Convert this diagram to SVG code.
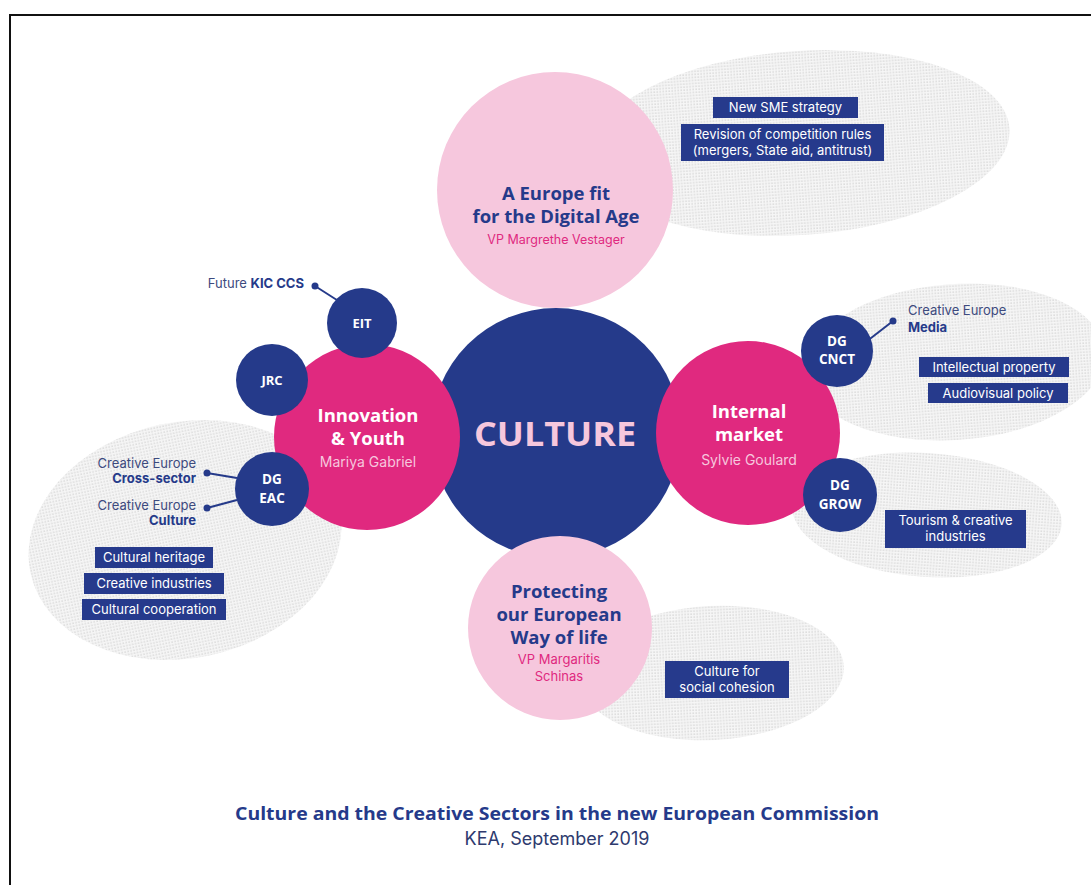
<svg xmlns="http://www.w3.org/2000/svg" width="1091" height="885" viewBox="0 0 1091 885">
<defs>
<pattern id="dots" width="3" height="3" patternUnits="userSpaceOnUse">
<rect width="3" height="3" fill="#f6f6f6"/>
<rect x="0.5" y="0.5" width="1.3" height="1.3" fill="#cfcfcf"/>
</pattern>
</defs>
<style>
.navy{fill:#253a8a}
.mag{fill:#e0297f}
.pink{fill:#f6c7dd}
.blob{fill:url(#dots)}
.h{font-family:"Open Sans","Noto Sans",sans-serif;font-weight:bold;text-anchor:middle}
.b{font-family:Inter,Roboto,"Liberation Sans",sans-serif;text-anchor:middle}
.box{fill:#263a8c}
.bt{font-family:Inter,Roboto,"Liberation Sans",sans-serif;font-size:13px;fill:#ffffff;text-anchor:middle}
.lbl{font-family:Inter,Roboto,"Liberation Sans",sans-serif;font-size:13px;fill:#3d4a7e}
.lb{font-weight:bold;fill:#253a8a}
.con{stroke:#253a8a;stroke-width:2;fill:none}
</style>
<rect x="0" y="0" width="1091" height="885" fill="#ffffff"/>
<rect x="10" y="15" width="1100" height="900" fill="none" stroke="#111111" stroke-width="2"/>

<g id="backgrounds">
<ellipse class="blob" cx="800" cy="143" rx="210" ry="92" transform="rotate(-4 800 143)"/>
<ellipse class="blob" cx="185" cy="540" rx="158" ry="118" transform="rotate(-12 185 540)"/>
<ellipse class="blob" cx="955" cy="362" rx="150" ry="78" transform="rotate(-4 955 362)"/>
<ellipse class="blob" cx="927" cy="515" rx="135" ry="62" transform="rotate(4 927 515)"/>
<ellipse class="blob" cx="712" cy="673" rx="132" ry="67" transform="rotate(-3 712 673)"/>
</g>

<g id="connectors">
<line class="con" x1="315" y1="286" x2="340" y2="302"/>
<line class="con" x1="207" y1="473" x2="237" y2="478"/>
<line class="con" x1="207" y1="508" x2="237" y2="500"/>
<line class="con" x1="893" y1="321" x2="862" y2="345"/>
<circle class="navy" cx="315" cy="286" r="3.5"/>
<circle class="navy" cx="207" cy="473" r="3.5"/>
<circle class="navy" cx="207" cy="508" r="3.5"/>
<circle class="navy" cx="893" cy="321" r="3.5"/>
</g>

<g id="digital">
<circle class="pink" cx="555" cy="190" r="118"/>
<text class="h" x="556" y="200" font-size="18.5" fill="#253a8a">A Europe fit</text>
<text class="h" x="556" y="223" font-size="18.5" fill="#253a8a">for the Digital Age</text>
<text class="b" x="556" y="244" font-size="12.5" fill="#e0297f">VP Margrethe Vestager</text>
</g>

<g id="culture">
<circle class="navy" cx="556" cy="433" r="125"/>
<text class="h" x="555" y="446" font-size="34" fill="#f6c7dd" textLength="162" lengthAdjust="spacingAndGlyphs">CULTURE</text>
</g>

<g id="innovation">
<circle class="mag" cx="367" cy="437" r="93"/>
<text class="h" x="368" y="422" font-size="18.5" fill="#ffffff">Innovation</text>
<text class="h" x="368" y="445" font-size="18.5" fill="#ffffff">&amp; Youth</text>
<text class="b" x="368" y="467" font-size="14" fill="#f6c7dd">Mariya Gabriel</text>
</g>

<g id="internal">
<circle class="mag" cx="748" cy="433" r="92"/>
<text class="h" x="749" y="418" font-size="18.5" fill="#ffffff">Internal</text>
<text class="h" x="749" y="441" font-size="18.5" fill="#ffffff">market</text>
<text class="b" x="749" y="465" font-size="14" fill="#f6c7dd">Sylvie Goulard</text>
</g>

<g id="protecting">
<circle class="pink" cx="560" cy="628" r="92"/>
<text class="h" x="559" y="598" font-size="18.5" fill="#253a8a">Protecting</text>
<text class="h" x="559" y="621" font-size="18.5" fill="#253a8a">our European</text>
<text class="h" x="559" y="644" font-size="18.5" fill="#253a8a">Way of life</text>
<text class="b" x="559" y="664" font-size="13" fill="#e0297f">VP Margaritis</text>
<text class="b" x="559" y="681" font-size="13" fill="#e0297f">Schinas</text>
</g>

<g id="eit">
<circle class="navy" cx="362" cy="323" r="35"/>
<text class="h" x="362" y="328" font-size="13" fill="#ffffff">EIT</text>
</g>
<g id="jrc">
<circle class="navy" cx="272" cy="380" r="36"/>
<text class="h" x="272" y="385" font-size="13" fill="#ffffff">JRC</text>
</g>
<g id="dgeac">
<circle class="navy" cx="272" cy="489" r="37"/>
<text class="h" x="272" y="484" font-size="13.5" fill="#ffffff">DG</text>
<text class="h" x="272" y="503" font-size="13.5" fill="#ffffff">EAC</text>
</g>
<g id="dgcnct">
<circle class="navy" cx="837" cy="351" r="36"/>
<text class="h" x="837" y="346" font-size="13.5" fill="#ffffff">DG</text>
<text class="h" x="837" y="364" font-size="13.5" fill="#ffffff">CNCT</text>
</g>
<g id="dggrow">
<circle class="navy" cx="840" cy="495" r="37"/>
<text class="h" x="840" y="490" font-size="13.5" fill="#ffffff">DG</text>
<text class="h" x="840" y="509" font-size="13.5" fill="#ffffff">GROW</text>
</g>

<g id="labels">
<text class="lbl" x="304" y="288" text-anchor="end">Future <tspan class="lb">KIC CCS</tspan></text>
<text class="lbl" x="196" y="468" text-anchor="end">Creative Europe</text>
<text class="lbl lb" x="196" y="483" text-anchor="end">Cross-sector</text>
<text class="lbl" x="196" y="510" text-anchor="end">Creative Europe</text>
<text class="lbl lb" x="196" y="525" text-anchor="end">Culture</text>
<text class="lbl" x="908" y="315" font-size="14">Creative Europe</text>
<text class="lbl lb" x="908" y="332" font-size="14">Media</text>
</g>

<g id="boxes">
<rect class="box" x="713" y="97" width="145" height="21"/>
<text class="bt" x="785.5" y="112">New SME strategy</text>
<rect class="box" x="681" y="124" width="203" height="37"/>
<text class="bt" x="782.5" y="139">Revision of competition rules</text>
<text class="bt" x="782.5" y="155">(mergers, State aid, antitrust)</text>
<rect class="box" x="95" y="547" width="118" height="21"/>
<text class="bt" x="154" y="562">Cultural heritage</text>
<rect class="box" x="84" y="573" width="140" height="21"/>
<text class="bt" x="154" y="588">Creative industries</text>
<rect class="box" x="82" y="599" width="144" height="21"/>
<text class="bt" x="154" y="614">Cultural cooperation</text>
<rect class="box" x="919" y="357" width="150" height="20"/>
<text class="bt" x="994" y="372">Intellectual property</text>
<rect class="box" x="928" y="383" width="140" height="20"/>
<text class="bt" x="998" y="398">Audiovisual policy</text>
<rect class="box" x="885" y="510" width="141" height="38"/>
<text class="bt" x="955.5" y="525">Tourism &amp; creative</text>
<text class="bt" x="955.5" y="541">industries</text>
<rect class="box" x="665" y="661" width="124" height="37"/>
<text class="bt" x="727" y="676">Culture for</text>
<text class="bt" x="727" y="692">social cohesion</text>
</g>

<g id="caption">
<text class="h" x="557" y="820" font-size="18" fill="#253a8a" textLength="644" lengthAdjust="spacingAndGlyphs">Culture and the Creative Sectors in the new European Commission</text>
<text class="b" x="557" y="845" font-size="18" fill="#2e3a6e">KEA, September 2019</text>
</g>
</svg>
